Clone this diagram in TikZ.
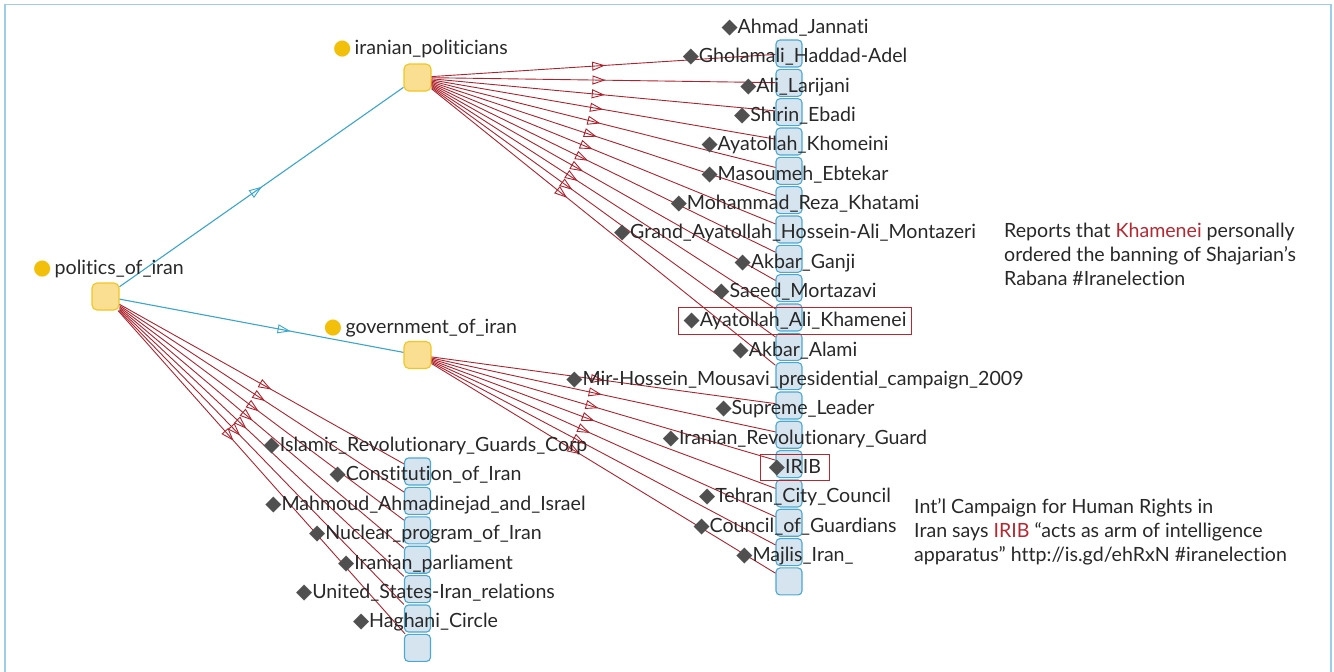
\documentclass[tikz,border=0pt]{standalone}
\usepackage{fontspec}
\setmainfont[Ligatures=NoCommon]{Lato}
\newfontfamily\dejavu{DejaVu Sans}
\usetikzlibrary{arrows.meta,decorations.markings,calc,fit}
\definecolor{edgered}{RGB}{172,35,45}
\definecolor{edgeblue}{RGB}{60,165,205}
\definecolor{boxfill}{RGB}{214,228,240}
\definecolor{boxline}{RGB}{75,168,208}
\definecolor{yfill}{RGB}{250,222,145}
\definecolor{yline}{RGB}{240,198,35}
\definecolor{ydotcol}{RGB}{242,192,10}
\definecolor{diam}{RGB}{80,80,80}
\definecolor{txt}{RGB}{40,40,40}
\definecolor{hl}{RGB}{180,40,50}
\definecolor{framecol}{RGB}{160,205,230}
\newcommand{\dia}{{\dejavu\color{diam}\fontsize{21}{21}\selectfont ◆}}
\newcommand{\ydot}{{\dejavu\color{ydotcol}\fontsize{21}{21}\selectfont ●}}
\begin{document}
\begin{tikzpicture}[x=1pt,y=-1pt,
  bbox/.style={draw=boxline, fill=boxfill, rounded corners=4pt, line width=1.1pt, minimum width=26pt, minimum height=27pt, inner sep=0pt},
  ybox/.style={draw=yline, fill=yfill, rounded corners=5pt, line width=1.1pt, minimum width=27pt, minimum height=27pt, inner sep=0pt},
  lab/.style={font=\fontsize{19.6}{22}\selectfont, text=txt, inner sep=0pt, anchor=base},
  midarrow/.style={postaction={decorate}, decoration={markings, mark=at position 174pt with {\arrow{Triangle[open, length=13pt, width=9pt, line width=0.9pt]}}}},
  rel/.style={draw=edgered, color=edgered, line width=0.9pt, midarrow},
  sub/.style={draw=edgeblue, color=edgeblue, line width=1.1pt, midarrow},
  ann/.style={font=\fontsize{19.6}{24}\selectfont, text=txt, align=left, inner sep=0pt, anchor=base west},
  hlbox/.style={draw=hl, line width=1pt, inner xsep=5pt, inner ysep=4.5pt}
]
\useasboundingbox (0,0) rectangle (1334,672);
\draw[draw=framecol, line width=1.6pt] (5,680) -- (5,4.5) -- (1331,4.5) -- (1331,680);

% hub nodes
\node[ybox] (poi) at (105.5,296.5) {};
\node[ybox] (ip) at (417.5,77.5) {};
\node[ybox] (goi) at (417.5,355) {};

% leaf boxes
\foreach \i in {1,...,19} \node[bbox] (r\i) at (789, {53.5+29.33*(\i-1)}) {};
\foreach \i in {1,...,7} \node[bbox] (l\i) at (417.5, {471.5+29.4*(\i-1)}) {};

% connectors
\draw[sub] (poi) -- (ip);
\draw[sub] (poi) -- (goi);
\foreach \i in {1,...,12} \draw[rel] (ip) -- (r\i);
\foreach \i in {13,...,19} \draw[rel] (goi) -- (r\i);
\foreach \i in {1,...,7} \draw[rel] (poi) -- (l\i);

% hub labels
\node[lab] (tpoi) at ($(poi)+(3,-22)$) {\ydot\,politics\_of\_iran};
\node[lab] (tip) at ($(ip)+(3,-23.5)$) {\ydot\,iranian\_politicians};
\node[lab] (tgoi) at ($(goi)+(3,-21.5)$) {\ydot\,government\_of\_iran};

% leaf labels
\foreach \i/\t in {1/Ahmad\_Jannati, 2/Gholamali\_Haddad-Adel, 3/Ali\_Larijani, 4/Shirin\_Ebadi,
  5/Ayatollah\_Khomeini, 6/Masoumeh\_Ebtekar, 7/Mohammad\_Reza\_Khatami,
  8/Grand\_Ayatollah\_Hossein-Ali\_Montazeri, 9/Akbar\_Ganji, 10/Saeed\_Mortazavi,
  11/Ayatollah\_Ali\_Khamenei, 12/Akbar\_Alami, 13/Mir-Hossein\_Mousavi\_presidential\_campaign\_2009,
  14/Supreme\_Leader, 15/Iranian\_Revolutionary\_Guard, 16/IRIB, 17/Tehran\_City\_Council,
  18/Council\_of\_Guardians, 19/Majlis\_Iran\_}
  \node[lab] (tr\i) at ($(r\i)+(6,-20)$) {\dia\t};
\foreach \i/\t in {1/Islamic\_Revolutionary\_Guards\_Corp, 2/Constitution\_of\_Iran,
  3/Mahmoud\_Ahmadinejad\_and\_Israel, 4/Nuclear\_program\_of\_Iran, 5/Iranian\_parliament,
  6/United\_States-Iran\_relations, 7/Haghani\_Circle}
  \node[lab] (tl\i) at ($(l\i)+(8,-20)$) {\dia\t};

% highlights
\node[hlbox, fit=(tr11)] (hk) {};
\node[hlbox, fit=(tr16), inner xsep=8pt] (hi) {};

% annotations
\node[ann] (a1) at (1004,285.5) {Reports that \textcolor{hl}{Khamenei} personally\\ordered the banning of Shajarian’s\\Rabana \#Iranelection};
\node[ann] (a2) at (914,561.5) {Int’l Campaign for Human Rights in\\Iran says \textcolor{hl}{IRIB} “acts as arm of intelligence\\apparatus” http://is.gd/ehRxN \#iranelection};
\end{tikzpicture}
\end{document}
